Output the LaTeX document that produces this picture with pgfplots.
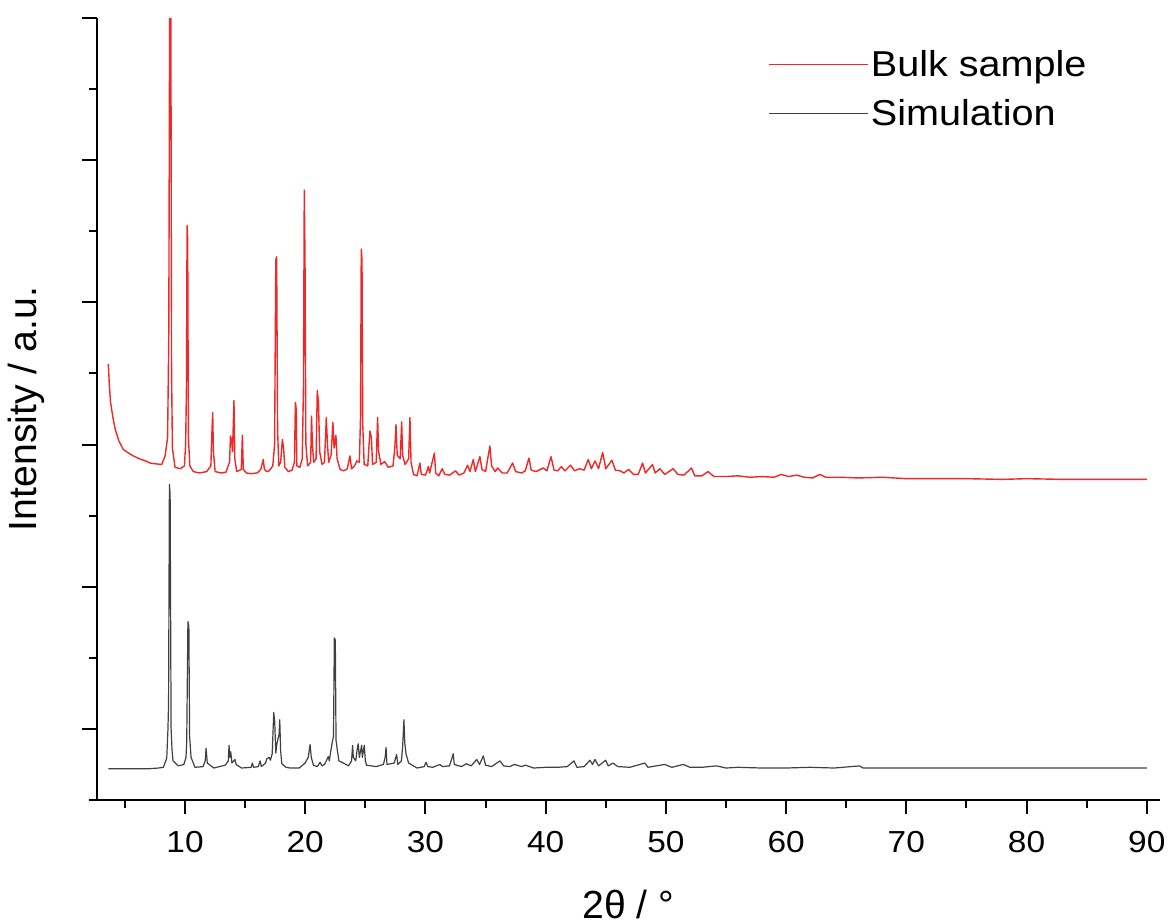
\documentclass[border=0pt]{standalone}
\usepackage{fontspec}
\setmainfont{Liberation Sans}
\usepackage{pgfplots}
\pgfplotsset{compat=1.18}
\definecolor{bulk}{RGB}{240,40,40}
\definecolor{sim}{RGB}{64,64,64}

\begin{document}
\begin{tikzpicture}
\path[use as bounding box] (-24.2pt,-30.75pt) rectangle (267.8pt,200pt);
\begin{axis}[scale only axis,width=265.8pt,height=195.5pt,
  xmin=2.66,xmax=91.1,ymin=0,ymax=11,
  axis lines*=left,
  axis line style={line width=0.5pt,black},
  tick align=outside,
  xtick={10,20,...,90},minor xtick={5,15,...,85},
  ytick={1,3,...,11},minor ytick={0,2,...,10},yticklabels={},
  major tick length=3.6pt,minor tick length=2pt,
  every tick/.style={line width=0.5pt,black},
  /pgf/number format/assume math mode=true,
  tick label style={font=\fontsize{7.6}{9}\selectfont},
  xticklabel style={anchor=base,yshift=-9.4pt,xscale=1.1},
  xlabel={2θ / °},ylabel={Intensity / a.u.},
  label style={font=\fontsize{9.8}{11}\selectfont},
  xlabel style={at={(axis description cs:0.5,0)},anchor=base,yshift=-29.5pt},
  ylabel style={at={(axis description cs:-0.0665,0.5)},anchor=center},
  legend style={at={(axis description cs:0.631,0.964)},anchor=north west,
    draw=none,fill=none,inner sep=0pt,row sep=2.25pt,
    font=\fontsize{9}{10}\selectfont,
    nodes={inner sep=0.5pt,text height=7pt,text depth=2pt,xscale=1.1}},
  legend cell align=left,
  legend image code/.code={\path (0pt,0.6pt) -- (24.7pt,0.6pt);
    \draw[#1] (0pt,0.6pt) -- (20.45pt,0.6pt);},
  every axis plot/.append style={line width=0.3pt,line join=round,no markers}]
\addplot[color=bulk,line width=0.35pt] coordinates {(3.62,6.13) (3.7,5.85) (3.8,5.6) (4.0,5.38) (4.2,5.21) (4.5,5.05) (4.87,4.93) (5.3,4.88) (5.7,4.84) (6.2,4.80) (6.7,4.77) (7.1,4.74) (7.5,4.73) (8.06,4.72) (8.34,4.84) (8.55,5.1) (8.65,6.57) (8.72,11.2) (8.82,11.2) (8.88,6.0) (8.95,4.95) (9.17,4.68) (9.6,4.66) (9.95,4.7) (10.05,5.0) (10.12,5.82) (10.17,8.08) (10.22,7.9) (10.28,5.1) (10.4,4.7) (10.69,4.62) (11.2,4.6) (11.8,4.62) (12.15,4.7) (12.22,5.1) (12.3,5.45) (12.36,4.9) (12.5,4.62) (13.0,4.6) (13.4,4.61) (13.7,4.75) (13.78,5.12) (13.88,5.05) (13.95,4.9) (14.07,5.62) (14.14,4.8) (14.3,4.62) (14.68,4.65) (14.77,5.13) (14.85,4.65) (15.1,4.6) (15.5,4.59) (16.0,4.6) (16.3,4.65) (16.51,4.79) (16.6,4.65) (16.8,4.62) (17.0,4.63) (17.3,4.7) (17.45,5.0) (17.55,7.6) (17.62,7.64) (17.7,5.2) (17.8,4.7) (17.95,4.75) (18.1,5.07) (18.2,4.95) (18.3,4.68) (18.6,4.62) (18.9,4.64) (19.1,4.75) (19.18,5.59) (19.25,5.5) (19.3,4.7) (19.55,4.68) (19.75,4.8) (19.85,5.8) (19.92,8.58) (19.98,7.6) (20.05,5.0) (20.2,4.7) (20.45,4.75) (20.52,5.40) (20.6,5.0) (20.7,4.75) (20.9,4.8) (21.0,5.76) (21.1,5.6) (21.2,4.9) (21.4,4.72) (21.6,4.75) (21.75,5.38) (21.85,5.0) (21.95,4.75) (22.15,4.85) (22.3,5.31) (22.4,4.95) (22.55,5.13) (22.65,4.8) (22.9,4.65) (23.2,4.63) (23.5,4.66) (23.72,4.84) (23.85,4.66) (24.1,4.7) (24.3,4.77) (24.5,4.75) (24.6,5.4) (24.66,7.75) (24.72,7.6) (24.78,5.3) (24.9,4.72) (25.2,4.7) (25.38,5.19) (25.5,5.1) (25.6,4.72) (25.9,4.75) (26.02,5.38) (26.1,4.9) (26.3,4.72) (26.6,4.76) (26.9,4.68) (27.3,4.7) (27.45,4.95) (27.55,5.28) (27.65,4.85) (27.9,4.8) (28.02,5.32) (28.1,4.85) (28.3,4.72) (28.6,4.8) (28.71,5.38) (28.8,4.75) (29.0,4.58) (29.3,4.56) (29.54,4.74) (29.65,4.58) (30.0,4.57) (30.24,4.69) (30.35,4.6) (30.74,4.88) (30.85,4.6) (31.1,4.56) (31.4,4.66) (31.6,4.58) (32.0,4.57) (32.5,4.63) (32.8,4.57) (33.2,4.6) (33.5,4.71) (33.7,4.62) (33.98,4.79) (34.15,4.62) (34.53,4.83) (34.7,4.65) (35.0,4.62) (35.36,4.98) (35.5,4.7) (35.8,4.62) (36.0,4.67) (36.4,4.6) (36.8,4.6) (37.25,4.74) (37.5,4.62) (38.0,4.6) (38.3,4.63) (38.61,4.81) (38.8,4.64) (39.2,4.62) (39.8,4.67) (40.1,4.63) (40.44,4.83) (40.7,4.64) (41.0,4.63) (41.3,4.69) (41.6,4.63) (42.07,4.71) (42.4,4.63) (42.8,4.66) (43.2,4.64) (43.54,4.79) (43.8,4.66) (44.1,4.77) (44.4,4.66) (44.74,4.89) (45.0,4.66) (45.51,4.78) (45.8,4.64) (46.2,4.63) (46.5,4.6) (46.9,4.65) (47.3,4.58) (47.7,4.58) (48.06,4.74) (48.3,4.6) (48.89,4.72) (49.1,4.6) (49.5,4.66) (49.9,4.58) (50.6,4.66) (51.0,4.58) (51.5,4.57) (52.13,4.67) (52.4,4.56) (53.0,4.56) (53.5,4.62) (54.0,4.55) (55.0,4.55) (56.0,4.56) (57.0,4.54) (58.0,4.55) (59.0,4.54) (59.6,4.58) (60.2,4.55) (60.9,4.57) (61.5,4.54) (62.2,4.53) (62.8,4.58) (63.3,4.54) (64.5,4.54) (66.0,4.53) (68.0,4.54) (70.0,4.52) (72.0,4.52) (75.0,4.52) (78.0,4.51) (80.0,4.52) (83.0,4.51) (86.0,4.51) (88.0,4.51) (90.0,4.51)};
\addlegendentry{Bulk sample}
\addplot[color=sim] coordinates {(3.62,0.44) (4.67,0.44) (6.0,0.44) (7.0,0.44) (7.8,0.45) (8.2,0.46) (8.48,0.59) (8.58,1.0) (8.63,1.36) (8.7,4.44) (8.76,4.3) (8.84,1.01) (8.92,0.7) (9.0,0.55) (9.44,0.48) (9.9,0.5) (10.08,0.6) (10.14,0.82) (10.24,2.51) (10.32,2.44) (10.38,0.9) (10.5,0.6) (10.83,0.46) (11.5,0.47) (11.68,0.55) (11.75,0.73) (11.85,0.52) (12.4,0.45) (13.35,0.49) (13.6,0.55) (13.66,0.77) (13.72,0.6) (13.8,0.68) (13.9,0.52) (14.15,0.57) (14.25,0.5) (14.7,0.45) (15.5,0.46) (15.6,0.52) (15.7,0.46) (16.1,0.47) (16.24,0.55) (16.35,0.47) (16.7,0.52) (16.8,0.58) (17.0,0.6) (17.1,0.56) (17.25,0.65) (17.38,1.23) (17.46,1.1) (17.55,0.66) (17.65,0.8) (17.82,0.92) (17.88,1.13) (17.95,0.7) (18.05,0.51) (18.4,0.46) (18.74,0.45) (19.5,0.45) (19.99,0.52) (20.25,0.6) (20.4,0.78) (20.5,0.6) (20.68,0.49) (21.0,0.47) (21.23,0.53) (21.4,0.48) (21.6,0.5) (21.92,0.61) (22.0,0.55) (22.2,0.77) (22.35,0.9) (22.42,2.28) (22.5,2.25) (22.56,0.84) (22.67,0.7) (22.8,0.55) (23.17,0.52) (23.6,0.48) (23.85,0.55) (23.94,0.77) (24.0,0.6) (24.2,0.55) (24.35,0.75) (24.41,0.79) (24.5,0.6) (24.69,0.77) (24.75,0.6) (24.91,0.77) (25.0,0.55) (25.1,0.49) (25.9,0.47) (26.5,0.5) (26.65,0.6) (26.72,0.74) (26.8,0.5) (27.4,0.52) (27.6,0.64) (27.7,0.5) (28.0,0.55) (28.1,0.75) (28.21,1.13) (28.28,0.8) (28.38,0.65) (28.6,0.52) (29.3,0.45) (29.9,0.47) (30.04,0.53) (30.2,0.47) (30.6,0.46) (31.2,0.5) (31.4,0.47) (32.0,0.48) (32.31,0.65) (32.4,0.5) (33.0,0.47) (33.4,0.51) (33.8,0.48) (34.26,0.57) (34.5,0.5) (34.81,0.62) (35.0,0.49) (35.5,0.47) (36.2,0.55) (36.5,0.48) (37.0,0.47) (37.4,0.5) (38.0,0.47) (38.3,0.49) (39.0,0.45) (40.0,0.46) (41.0,0.46) (41.8,0.47) (42.35,0.55) (42.6,0.46) (43.2,0.47) (43.68,0.56) (43.9,0.5) (44.1,0.57) (44.4,0.48) (44.99,0.56) (45.2,0.48) (45.6,0.52) (46.0,0.47) (47.0,0.46) (48.25,0.52) (48.5,0.46) (49.9,0.5) (50.5,0.46) (51.44,0.5) (52.0,0.46) (53.0,0.46) (54.2,0.48) (55.0,0.45) (56.0,0.46) (58.0,0.45) (60.0,0.45) (62.0,0.46) (64.0,0.45) (66.1,0.48) (66.4,0.45) (70,0.45) (75,0.45) (80,0.45) (85,0.45) (90,0.45)};
\addlegendentry{Simulation}
\end{axis}
\end{tikzpicture}
\end{document}
